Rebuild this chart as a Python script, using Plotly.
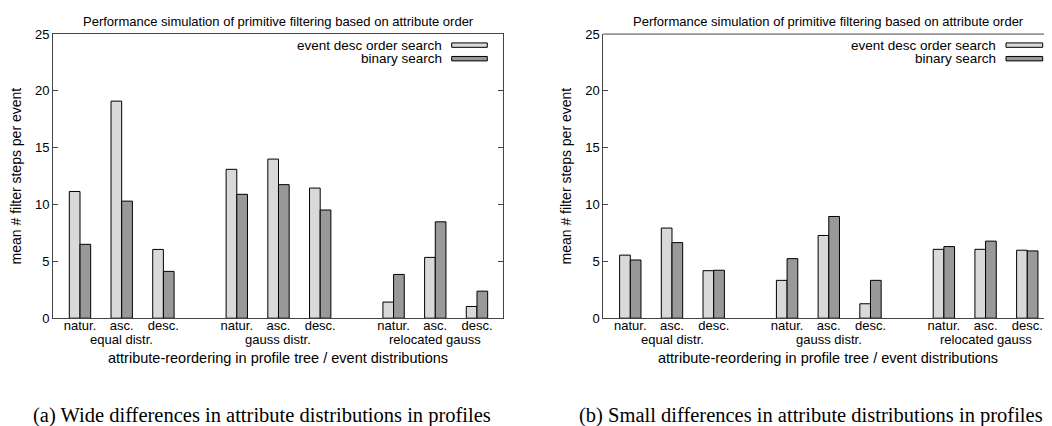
import plotly.graph_objects as go

# ---------------- data ----------------
orders = ["natur.", "asc.", "desc."]
groups = ["equal distr.", "gauss distr.", "relocated gauss"]
series_names = ["event desc order search", "binary search"]

# panel (a): wide differences
a_desc_order = [11.15, 19.1, 6.05, 13.1, 14.0, 11.45, 1.42, 5.35, 1.03]
a_binary = [6.5, 10.3, 4.12, 10.9, 11.75, 9.52, 3.85, 8.48, 2.38]
# panel (b): small differences
b_desc_order = [5.55, 7.93, 4.18, 3.33, 7.28, 1.27, 6.06, 6.06, 5.98]
b_binary = [5.12, 6.65, 4.22, 5.24, 8.95, 3.33, 6.3, 6.78, 5.92]

y_ticks = [0, 5, 10, 15, 20, 25]
title_text = "Performance simulation of primitive filtering based on attribute order"
y_title = "mean # filter steps per event"
x_title = "attribute-reordering in profile tree / event distributions"
captions = ["(a) Wide differences in attribute distributions in profiles",
            "(b) Small differences in attribute distributions in profiles"]

# ---------------- layout helpers ----------------
OFF_X = 8                  # horizontal page offset (px)
OFF_Y, SY = 15.0, 0.961    # observed vertical placement of the figure on screen
W, H = 1052 - OFF_X, 426
group_step = 3.76          # slot distance between group starts
bar_w = 0.256
light, dark = "#d9d9d9", "#999999"
frame = "#444444"
font_sans = "Liberation Sans"

positions = [g * group_step + i for g in range(len(groups)) for i in range(len(orders))]
tick_text = [o for _ in groups for o in orders]
group_centers = [g * group_step + 1 for g in range(len(groups))]


def px(xpix):
    return (xpix - OFF_X) / W


def fy(ypix):
    return max((ypix - OFF_Y) / SY, 0.0)


def py(ypix):
    return 1 - fy(ypix) / H


px_per_unit = 41.7
first_slot = 27.0          # px from frame left to first pair centre
plot_top, plot_bot = 34, 317
panels = [
    dict(left=53.0, width=450.0, vals=(a_desc_order, a_binary), mirror=True,
         leg_text_right=444, leg_box=(451.7, 487.3), cap_x=30.7),
    dict(left=603.3, width=450.0, vals=(b_desc_order, b_binary), mirror=False,
         leg_text_right=998, leg_box=(1006, 1042.7), cap_x=576.7),
]

fig = go.Figure()
annotations = []
shapes = []
y0p, y1p = py(plot_bot), py(plot_top)

for k, p in enumerate(panels):
    sfx = "" if k == 0 else str(k + 1)
    xa, ya = "x" + sfx, "y" + sfx
    for s, (vals, col, off) in enumerate(zip(p["vals"], (light, dark), (-bar_w, 0.0))):
        fig.add_trace(go.Bar(
            x=positions, y=vals, width=bar_w, offset=off,
            marker=dict(color=col, line=dict(color="black", width=1)),
            name=series_names[s], showlegend=False,
            xaxis=xa, yaxis=ya))
    right_pix = min(p["left"] + p["width"], W + OFF_X)
    x_lo = -first_slot / px_per_unit
    x_hi = x_lo + (right_pix - p["left"]) / px_per_unit
    fig.update_layout(**{
        "xaxis" + sfx: dict(
            domain=[px(p["left"]), px(right_pix)], range=[x_lo, x_hi],
            anchor=ya, tickmode="array", tickvals=positions, ticktext=tick_text,
            ticks="", ticklabelstandoff=-5,
            showline=True, linecolor=frame, linewidth=1, mirror=(True if p["mirror"] else False),
            showgrid=False, zeroline=False,
            tickfont=dict(family=font_sans, size=13, color="black")),
        "yaxis" + sfx: dict(
            domain=[y0p, y1p], range=[0, 25], anchor=xa,
            tickvals=y_ticks, ticks="inside", ticklen=5, tickcolor=frame,
            showline=True, linecolor=frame, linewidth=1,
            mirror=("ticks" if p["mirror"] else False),
            showgrid=False, zeroline=False,
            tickfont=dict(family=font_sans, size=13, color="black"),
            title=dict(text=y_title, font=dict(family=font_sans, size=14, color="black"), standoff=10)),
    })
    if not p["mirror"]:
        shapes.append(dict(type="line", xref=xa + " domain", yref="paper",
                           x0=0, x1=1, y0=y1p, y1=y1p, line=dict(color=frame, width=1)))
    xc = px(p["left"] + p["width"] / 2)
    annotations.append(dict(text=title_text, xref="paper", yref="paper", x=xc, y=1.0 + 3.0 / H,
                            showarrow=False, xanchor="center", yanchor="top",
                            font=dict(family=font_sans, size=13, color="black")))
    for gname, gc in zip(groups, group_centers):
        annotations.append(dict(text=gname, xref=xa, yref="paper", x=gc, y=py(338),
                                showarrow=False, xanchor="center", yanchor="middle",
                                font=dict(family=font_sans, size=13, color="black")))
    annotations.append(dict(text=x_title, xref="paper", yref="paper",
                            x=xc, y=py(357),
                            showarrow=False, xanchor="center", yanchor="middle",
                            font=dict(family=font_sans, size=14.5, color="black")))
    # legend (gnuplot style: text right aligned, wide key box at right)
    for s, (name, col, ypx) in enumerate(zip(series_names, (light, dark), (45, 58.5))):
        annotations.append(dict(text=name, xref="paper", yref="paper",
                                x=px(p["leg_text_right"]), y=py(ypx),
                                showarrow=False, xanchor="right", yanchor="middle",
                                font=dict(family=font_sans, size=13.5, color="black")))
        shapes.append(dict(type="rect", xref="paper", yref="paper",
                           x0=px(p["leg_box"][0]), x1=px(p["leg_box"][1]),
                           y0=py(ypx + 2.2), y1=py(ypx - 2.2),
                           fillcolor=col, line=dict(color="black", width=1)))
    annotations.append(dict(text=captions[k], xref="paper", yref="paper",
                            x=px(p["cap_x"]), y=py(414),
                            showarrow=False, xanchor="left", yanchor="middle",
                            font=dict(family="Liberation Serif", size=20.5, color="black")))

fig.update_layout(
    width=W, height=H, margin=dict(l=0, r=0, t=0, b=0),
    paper_bgcolor="white", plot_bgcolor="white",
    barmode="overlay", showlegend=False,
    annotations=annotations, shapes=shapes,
)

fig.write_html("out.html")
